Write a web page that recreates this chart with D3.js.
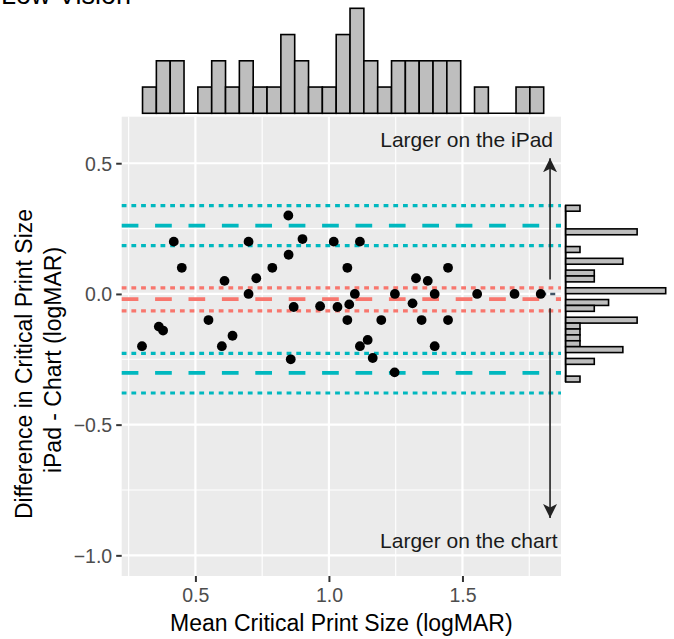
<!DOCTYPE html>
<html><head><meta charset="utf-8">
<script src="https://cdn.jsdelivr.net/npm/d3@7/dist/d3.min.js"></script>
<style>body{margin:0;background:#fff}svg{display:block}text{font-family:"Liberation Sans",Arial,Helvetica,sans-serif}</style>
</head><body>
<svg id="c" width="674" height="639"></svg>
<script>
// ---- data ----
const meanCPS = [0.300,0.363,0.379,0.419,0.449,0.549,0.599,0.609,0.639,0.699,0.699,0.728,0.788,0.848,0.849,0.857,0.868,0.901,0.967,1.018,1.032,1.069,1.069,1.076,1.097,1.116,1.116,1.145,1.164,1.196,1.246,1.247,1.313,1.326,1.347,1.370,1.396,1.396,1.446,1.446,1.555,1.695,1.793];
const diffCPS = [-0.20,-0.125,-0.14,0.20,0.10,-0.10,-0.20,0.05,-0.16,0.20,0.00,0.06,0.10,0.30,0.15,-0.25,-0.05,0.21,-0.047,0.20,-0.05,0.10,-0.10,-0.04,0.00,0.20,-0.20,-0.176,-0.245,-0.10,-0.30,0.00,-0.036,0.06,-0.10,0.05,0.00,-0.20,0.10,-0.10,0.00,0.00,0.00];
const bias = [-0.065, -0.020, 0.023];        // lower CI, mean, upper CI
const loaUpper = [0.185, 0.261, 0.338];
const loaLower = [-0.379, -0.302, -0.227];
const topBinStart = 0.302, topBinWidth = 0.0518;
const topCounts = [1,2,2,0,1,2,1,2,1,1,3,2,1,1,3,4,2,1,2,2,2,2,2,0,1,0,0,1,1];
const rightBinTop = 0.339, rightBinWidth = 0.02253;
const rightCounts = [1,0,0,0,5,0,0,1,0,4,0,2,2,0,7,0,3,2,0,5,1,1,1,1,4,0,2,0,0,1];
const xTicks = [0.5, 1.0, 1.5], xMinor = [0.25, 0.75, 1.25, 1.75];
const yTicks = [0.5, 0.0, -0.5, -1.0], yMinor = [0.25, -0.25, -0.75];
const arrowX = 1.828, arrowUp = [0.055, 0.519], arrowDown = [-0.055, -0.857];

// ---- scales ----
const svg = d3.select("#c");
const L = 121.7, R = 561, T = 116.7, B = 576;
const x = d3.scaleLinear().domain([0.224, 1.869]).range([L, R]);
const y = d3.scaleLinear().domain([-1.079, 0.678]).range([B, T]);
const fmt = d => d3.format(".1f")(d).replace("-", "\u2212");

// title (clipped at top, as in the original)
svg.append("text").attr("x", 1).attr("y", 4).attr("font-size", 27).attr("fill", "#000").text("Low Vision");

// panel
svg.append("rect").attr("x", L).attr("y", T).attr("width", R - L).attr("height", B - T).attr("fill", "#EBEBEB");
const g = svg.append("g");
g.selectAll(".xm").data(xMinor).join("line").attr("x1", d => x(d)).attr("x2", d => x(d)).attr("y1", T).attr("y2", B).attr("stroke", "#fff").attr("stroke-width", 1.1);
g.selectAll(".ym").data(yMinor).join("line").attr("y1", d => y(d)).attr("y2", d => y(d)).attr("x1", L).attr("x2", R).attr("stroke", "#fff").attr("stroke-width", 1.1);
g.selectAll(".xM").data(xTicks).join("line").attr("x1", d => x(d)).attr("x2", d => x(d)).attr("y1", T).attr("y2", B).attr("stroke", "#fff").attr("stroke-width", 2.2);
g.selectAll(".yM").data(yTicks).join("line").attr("y1", d => y(d)).attr("y2", d => y(d)).attr("x1", L).attr("x2", R).attr("stroke", "#fff").attr("stroke-width", 2.2);

// reference lines
function hline(v, col, dashed) {
  svg.append("line").attr("x1", L).attr("x2", R).attr("y1", y(v)).attr("y2", y(v))
    .attr("stroke", col).attr("stroke-width", dashed ? 3.8 : 3.2)
    .attr("stroke-dasharray", dashed ? "16.7,16.7" : "4.8,4.9");
}
const cyan = "#00B8BF", red = "#F8766D";
[loaUpper, loaLower].forEach(a => { hline(a[0], cyan, false); hline(a[1], cyan, true); hline(a[2], cyan, false); });
hline(bias[0], red, false); hline(bias[1], red, true); hline(bias[2], red, false);

// small dark dashed segment at zero near right edge
svg.append("line").attr("x1", x(1.795)).attr("x2", R - 2).attr("y1", y(0)).attr("y2", y(0))
  .attr("stroke", "#3f5566").attr("stroke-width", 2.5).attr("stroke-dasharray", "5,4");

// points
svg.selectAll(".pt").data(meanCPS).join("circle")
  .attr("cx", d => x(d)).attr("cy", (d, i) => y(diffCPS[i])).attr("r", 4.9).attr("fill", "#000");

// arrows
const defs = svg.append("defs");
defs.append("marker").attr("id", "ah").attr("viewBox", "0 0 10 10").attr("refX", 10).attr("refY", 5)
  .attr("markerWidth", 14).attr("markerHeight", 14).attr("markerUnits", "userSpaceOnUse").attr("orient", "auto")
  .append("path").attr("d", "M0,0 L10,5 L0,10 L2.5,5 Z").attr("fill", "#222");
[arrowUp, arrowDown].forEach(a => {
  svg.append("line").attr("x1", x(arrowX)).attr("x2", x(arrowX)).attr("y1", y(a[0])).attr("y2", y(a[1]))
    .attr("stroke", "#222").attr("stroke-width", 1.6).attr("marker-end", "url(#ah)");
});
svg.append("text").attr("x", 553).attr("y", 147.3).attr("text-anchor", "end").attr("font-size", 21).attr("fill", "#1a1a1a").text("Larger on the iPad");
svg.append("text").attr("x", 557.5).attr("y", 547.5).attr("text-anchor", "end").attr("font-size", 21).attr("fill", "#1a1a1a").text("Larger on the chart");

// axes
const xAxis = svg.append("g").attr("transform", `translate(0,${B})`)
  .call(d3.axisBottom(x).tickValues(xTicks).tickFormat(fmt).tickSize(6).tickPadding(4));
const yAxis = svg.append("g").attr("transform", `translate(${L},0)`)
  .call(d3.axisLeft(y).tickValues(yTicks).tickFormat(fmt).tickSize(5.5).tickPadding(4));
[xAxis, yAxis].forEach(a => {
  a.select(".domain").remove();
  a.selectAll(".tick line").attr("stroke", "#333").attr("stroke-width", 2);
  a.selectAll(".tick text").attr("fill", "#4D4D4D").attr("font-size", 19.5).attr("font-family", "Liberation Sans, Arial, sans-serif");
});
xAxis.selectAll(".tick text").attr("dy", "0.75em").attr("y", 11);
yAxis.selectAll(".tick text").attr("dy", "0.35em");

svg.append("text").attr("x", (L + R) / 2).attr("y", 631).attr("text-anchor", "middle").attr("font-size", 23).attr("fill", "#000").text("Mean Critical Print Size (logMAR)");
svg.append("text").attr("transform", "translate(32,364) rotate(-90)").attr("text-anchor", "middle").attr("font-size", 23).attr("fill", "#000").text("Difference in Critical Print Size");
svg.append("text").attr("transform", "translate(61,360) rotate(-90)").attr("text-anchor", "middle").attr("font-size", 23).attr("fill", "#000").text("iPad - Chart (logMAR)");

// top marginal histogram
const yTop = d3.scaleLinear().domain([0, 4]).range([113.3, 8.3]);
const topEnd = topBinStart + topCounts.length * topBinWidth;
svg.append("line").attr("x1", x(topBinStart)).attr("x2", x(topEnd)).attr("y1", yTop(0)).attr("y2", yTop(0))
  .attr("stroke", "#000").attr("stroke-width", 1.6);
svg.selectAll(".tb").data(topCounts).join("rect")
  .attr("x", (d, i) => x(topBinStart + i * topBinWidth))
  .attr("width", (d, i) => x(topBinStart + (i + 1) * topBinWidth) - x(topBinStart + i * topBinWidth))
  .attr("y", d => yTop(d)).attr("height", d => yTop(0) - yTop(d))
  .attr("fill", "#BEBEBE").attr("stroke", "#000").attr("stroke-width", 1.6);

// right marginal histogram
const xRight = d3.scaleLinear().domain([0, 7]).range([565.7, 665.7]);
const rightEnd = rightBinTop - rightCounts.length * rightBinWidth;
svg.append("line").attr("x1", xRight(0)).attr("x2", xRight(0)).attr("y1", y(rightBinTop)).attr("y2", y(rightEnd))
  .attr("stroke", "#000").attr("stroke-width", 2);
svg.selectAll(".rb").data(rightCounts).join("rect")
  .attr("y", (d, i) => y(rightBinTop - i * rightBinWidth))
  .attr("height", (d, i) => y(rightBinTop - (i + 1) * rightBinWidth) - y(rightBinTop - i * rightBinWidth))
  .attr("x", xRight(0)).attr("width", d => xRight(d) - xRight(0))
  .attr("fill", "#BEBEBE").attr("stroke", "#000").attr("stroke-width", 1.6);
</script>
</body></html>
